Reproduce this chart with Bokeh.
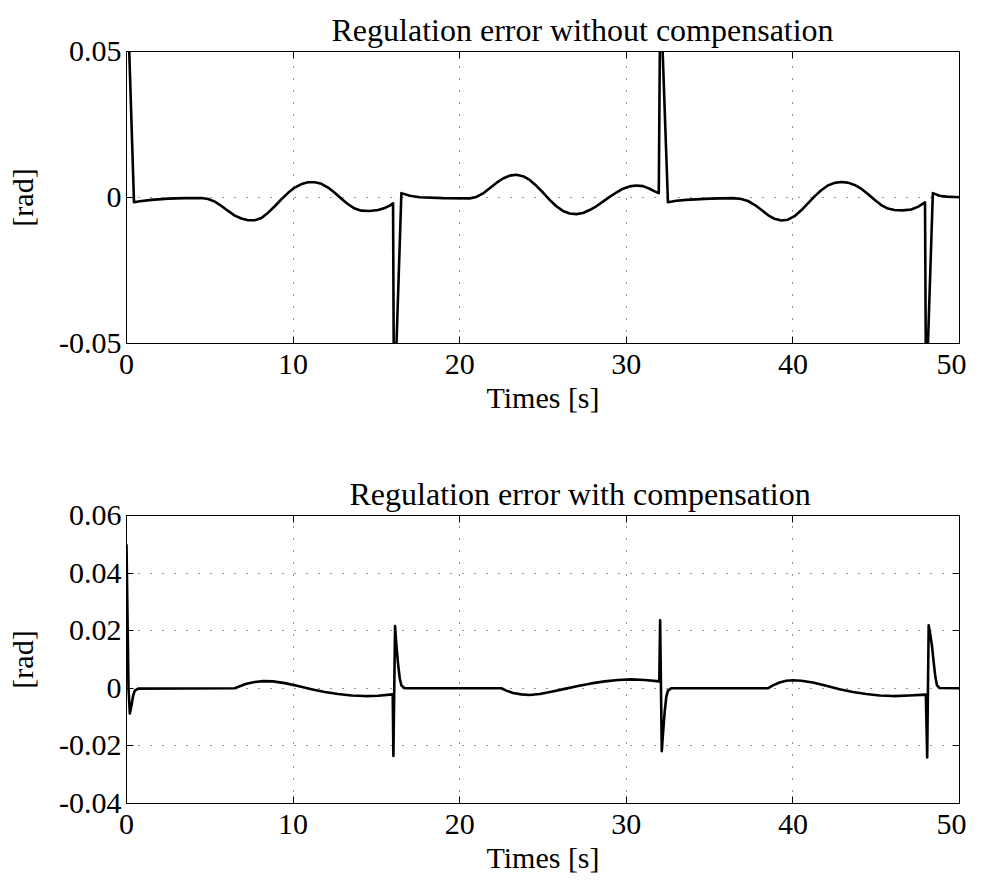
from bokeh.plotting import figure
from bokeh.models import LinearAxis, FixedTicker, Range1d, ColumnDataSource
from bokeh.layouts import column
from bokeh.embed import file_html
from bokeh.resources import INLINE

# ---------------- data ----------------
t_without = [0.0, 0.45, 0.8, 1.5, 2.5, 3.5, 4.5, 4.9, 5.3, 5.7, 6.1, 6.5, 6.9, 7.3, 7.7,
             8.1, 8.5, 8.9, 9.3, 9.7, 10.1, 10.5, 10.9, 11.3, 11.7, 12.1, 12.5, 12.9,
             13.3, 13.7, 14.1, 14.6, 15.1, 15.5, 15.8, 16.0, 16.06, 16.15,
             16.5, 17.0, 17.6, 19.0, 20.6, 21.0, 21.4, 21.8, 22.2, 22.6, 23.0, 23.4,
             23.8, 24.2, 24.6, 25.0, 25.4, 25.8, 26.2, 26.6, 27.0, 27.4, 27.8, 28.2,
             28.6, 29.0, 29.4, 29.8, 30.2, 30.6, 31.0, 31.4, 31.7, 31.95, 32.05, 32.12,
             32.5, 33.0, 33.6, 35.0, 36.4, 36.9, 37.3, 37.7, 38.1, 38.5, 38.9, 39.3,
             39.7, 40.1, 40.5, 40.9, 41.3, 41.7, 42.1, 42.5, 42.9, 43.3, 43.7, 44.1,
             44.5, 44.9, 45.3, 45.7, 46.1, 46.6, 47.1, 47.5, 47.93, 48.0, 48.05,
             48.4, 48.8, 49.2, 50.0]
e_without = [0.08, -0.0016, -0.0013, -0.0008, -0.0004, -0.0002, -0.0002, -0.0005,
             -0.0014, -0.0029, -0.0046, -0.0062, -0.0072, -0.0078, -0.0078, -0.0070,
             -0.0052, -0.0030, -0.0006, 0.0016, 0.0034, 0.0046, 0.0052, 0.0052,
             0.0047, 0.0034, 0.0016, -0.0004, -0.0023, -0.0038, -0.0045, -0.0046,
             -0.0043, -0.0036, -0.0028, -0.0020, -0.08, -0.06,
             0.0015, 0.0006, 0.0001, -0.0002, -0.0003, 0.0002, 0.0014, 0.0032,
             0.0050, 0.0065, 0.0075, 0.0078, 0.0073, 0.0060, 0.0040, 0.0017, -0.0008,
             -0.0030, -0.0046, -0.0055, -0.0057, -0.0053, -0.0043, -0.0030, -0.0014,
             0.0002, 0.0017, 0.0030, 0.0038, 0.0041, 0.0039, 0.0030, 0.0021, 0.0015,
             0.08, 0.06,
             -0.0016, -0.0011, -0.0008, -0.0004, -0.0002, -0.0005, -0.0012, -0.0025,
             -0.0042, -0.0060, -0.0073, -0.0079, -0.0076, -0.0064, -0.0044, -0.0020,
             0.0004, 0.0025, 0.0041, 0.0050, 0.0053, 0.0051, 0.0043, 0.0030, 0.0012,
             -0.0008, -0.0026, -0.0038, -0.0043, -0.0044, -0.0041, -0.0032, -0.0017,
             -0.08, -0.06,
             0.0015, 0.0006, 0.0003, 0.0001]

t_with = [0.0, 0.12, 0.2, 0.3, 0.4, 0.5, 0.7, 6.5, 6.8, 7.2, 7.7, 8.2, 8.8, 9.5, 10.3,
          11.1, 11.9, 12.7, 13.5, 14.3, 15.1, 15.98, 16.02, 16.12, 16.2, 16.3, 16.4,
          16.5, 16.7, 22.5, 22.8, 23.2, 23.7, 24.2, 24.8, 25.5, 26.3, 27.1, 27.9,
          28.7, 29.5, 30.3, 31.1, 31.98, 32.03, 32.13, 32.2, 32.3, 32.4, 32.5, 32.7,
          38.5, 38.8, 39.2, 39.6, 40.0, 40.5, 41.2, 42.0, 42.8, 43.6, 44.4, 45.2,
          46.0, 47.0, 47.98, 48.06, 48.15, 48.25, 48.35, 48.45, 48.55, 48.65, 48.8,
          50.0]
e_with = [0.05, 0.0, -0.0087, -0.0060, -0.0025, -0.0008, -0.0001, 0.0, 0.0007, 0.0016,
          0.0022, 0.0025, 0.0024, 0.0018, 0.0008, -0.0003, -0.0013, -0.0020, -0.0025,
          -0.0027, -0.0026, -0.0021, -0.0235, 0.0216, 0.0150, 0.0085, 0.0035, 0.0010,
          0.0, 0.0, -0.0008, -0.0016, -0.0021, -0.0023, -0.0020, -0.0012, -0.0002,
          0.0008, 0.0017, 0.0024, 0.0029, 0.0031, 0.0029, 0.0024, 0.0236, -0.0218,
          -0.0160, -0.0084, -0.0030, -0.0008, 0.0, 0.0, 0.0010, 0.0020, 0.0026,
          0.0028, 0.0026, 0.0020, 0.0009, -0.0003, -0.0013, -0.0020, -0.0025,
          -0.0027, -0.0025, -0.0022, -0.0240, 0.0219, 0.0185, 0.0147, 0.0090,
          0.0040, 0.0010, 0.0001, 0.0]

x_ticks = [0, 10, 20, 30, 40, 50]
x_tick_labels = ["0", "10", "20", "30", "40", "50"]
y_ticks_top = [-0.05, 0.0, 0.05]
y_tick_labels_top = ["-0.05", "0", "0.05"]
y_ticks_bot = [-0.04, -0.02, 0.0, 0.02, 0.04, 0.06]
y_tick_labels_bot = ["-0.04", "-0.02", "0", "0.02", "0.04", "0.06"]

title_top = "Regulation error without compensation"
title_bot = "Regulation error with compensation"
x_label = "Times [s]"
y_label = "[rad]"

FONT = "Liberation Serif"


def make_fig(t, e, yticks, ylabels, ymin, ymax, title, title_off, btop, fh, bbot):
    p = figure(frame_width=833, frame_height=fh,
               x_range=Range1d(0, 50), y_range=Range1d(ymin, ymax),
               output_backend="svg", toolbar_location=None,
               min_border_left=126, min_border_right=7,
               min_border_top=btop, min_border_bottom=bbot,
               background_fill_color="white", border_fill_color="white")
    p.outline_line_color = "black"
    p.outline_line_width = 1
    p.outline_line_alpha = 1

    p.title.text = title
    p.title.text_font = FONT
    p.title.text_font_size = "32px"
    p.title.text_font_style = "normal"
    p.title.text_color = "black"
    p.title.align = "left"
    p.title.offset = title_off
    p.title.standoff = 8

    xt = FixedTicker(ticks=x_ticks)
    yt = FixedTicker(ticks=yticks)
    p.xaxis.ticker = xt
    p.yaxis.ticker = yt
    xo = {float(k): v for k, v in zip(x_ticks, x_tick_labels)}
    xo.update({int(k): v for k, v in zip(x_ticks, x_tick_labels)})
    p.xaxis.major_label_overrides = xo
    p.yaxis.major_label_overrides = {float(k): v for k, v in zip(yticks, ylabels)}

    for ax in (p.xaxis[0], p.yaxis[0]):
        ax.major_tick_in = 7
        ax.major_tick_out = 0
        ax.minor_tick_line_color = None
        ax.major_tick_line_color = "black"
        ax.axis_line_color = "black"
        ax.major_label_text_font = FONT
        ax.major_label_text_font_size = "30px"
        ax.major_label_text_color = "black"
        ax.axis_label_text_font = FONT
        ax.axis_label_text_font_size = "30px"
        ax.axis_label_text_font_style = "normal"
        ax.axis_label_text_color = "black"
    p.xaxis.major_label_standoff = 11
    p.xaxis.axis_label_standoff = 4
    p.yaxis.major_label_standoff = 5
    p.yaxis.axis_label_standoff = 17
    p.xaxis.axis_label = x_label
    p.yaxis.axis_label = y_label

    # mirrored tick marks on the top and right edges (no labels)
    right = LinearAxis(ticker=yt, major_label_overrides={float(k): "" for k in yticks},
                       major_label_text_font_size="1px",
                       major_tick_in=7, major_tick_out=0, major_label_standoff=0,
                       minor_tick_line_color=None, axis_line_color=None)
    xe = {float(k): "" for k in x_ticks}
    xe.update({int(k): "" for k in x_ticks})
    top = LinearAxis(ticker=xt, major_label_overrides=xe,
                     major_label_text_font_size="1px",
                     major_tick_in=7, major_tick_out=0, major_label_standoff=0,
                     minor_tick_line_color=None, axis_line_color=None)
    p.add_layout(right, "right")
    p.add_layout(top, "above")

    for g in (p.xgrid[0], p.ygrid[0]):
        g.grid_line_color = "black"
        g.grid_line_dash = "1 11"
        g.grid_line_width = 1
        g.grid_line_alpha = 0.85

    src = ColumnDataSource(dict(t=t, e=e))
    p.line("t", "e", source=src, line_color="black", line_width=2.6,
           line_join="round")
    return p


p1 = make_fig(t_without, e_without, y_ticks_top, y_tick_labels_top, -0.05, 0.05,
              title_top, 205, 51, 292, 112)
p2 = make_fig(t_with, e_with, y_ticks_bot, y_tick_labels_bot, -0.04, 0.06,
              title_bot, 223, 60, 288, 70)

layout = column(p1, p2, spacing=0)
open("out.html", "w").write(file_html(layout, INLINE))
